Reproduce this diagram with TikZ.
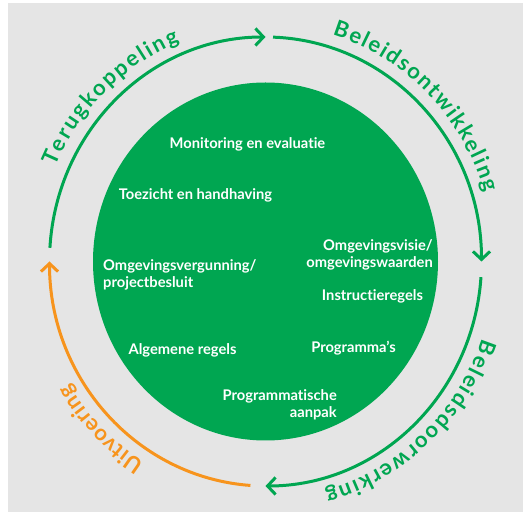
\documentclass[tikz,border=0pt]{standalone}
\usepackage{fontspec}
\setmainfont{Lato}[Ligatures={NoCommon}]
\usetikzlibrary{arrows.meta,decorations.text}
\definecolor{bg}{HTML}{E5E5E5}
\definecolor{grn}{HTML}{00A651}
\definecolor{org}{HTML}{F7941D}
\begin{document}
\begin{tikzpicture}[x=1pt,y=1pt,
  ring/.style={line width=3pt, -{Straight Barb[length=8pt,width=17pt]}},
  inner/.style={text=white, font=\bfseries\fontsize{14.7}{17}\selectfont, inner sep=0pt},
  ringtext/.style={decorate, decoration={text along path, text align={fit to path}, text color=#1}}
]
\useasboundingbox (0,0) rectangle (523,514);
\fill[bg] (8,2) rectangle (523,511);
\coordinate (C) at (265.5,252.5);
\fill[grn] (C) ellipse [x radius=172.5, y radius=179];

% ring arrows
\draw[ring, grn] (C) ++(176.5:216 and 224.5) arc[start angle=176.5, end angle=90, x radius=216, y radius=224.5];
\draw[ring, grn] (C) ++(88:216 and 224.5) arc[start angle=88, end angle=0, x radius=216, y radius=224.5];
\draw[ring, grn] (C) ++(-4:216 and 224.5) arc[start angle=-4, end angle=-90, x radius=216, y radius=224.5];
\draw[ring, org] (C) ++(-94:216 and 224.5) arc[start angle=-94, end angle=-180, x radius=216, y radius=224.5];

% ring texts
\path[ringtext=grn, decoration={text={|\bfseries\fontsize{22}{22}\selectfont|Terugkoppeling}}]
  (C) ++(156.5:229 and 237) arc[start angle=156.5, end angle=112, x radius=229, y radius=237];
\path[ringtext=grn, decoration={text={|\bfseries\fontsize{22}{22}\selectfont|Beleidsontwikkeling}}]
  (C) ++(73:229 and 237) arc[start angle=73, end angle=17, x radius=229, y radius=237];
\path[ringtext=grn, decoration={text={|\bfseries\fontsize{22}{22}\selectfont|Beleidsdoorwerking}}]
  (C) ++(-19:229 and 237) arc[start angle=-19, end angle=-75, x radius=229, y radius=237];
\path[ringtext=org, decoration={text={|\bfseries\fontsize{22}{22}\selectfont|Uitvoering}}]
  (C) ++(-122:229 and 237) arc[start angle=-122, end angle=-149, x radius=229, y radius=237];

% inner texts
\node[inner] (mon) at (247.5,370) {Monitoring en evaluatie};
\node[inner] (toe) at (195.5,319) {Toezicht en handhaving};
\node[inner, align=left, anchor=west] (ovg) at (103,239.5) {Omgevingsvergunning/\\projectbesluit};
\node[inner, align=right, anchor=east] (ovi) at (433,259.5) {Omgevingsvisie/\\omgevingswaarden};
\node[inner] (ins) at (372.5,218) {Instructieregels};
\node[inner] (alg) at (182.5,164) {Algemene regels};
\node[inner] (prg) at (353.5,166) {Programma’s};
\node[inner, align=right, anchor=east] (pa) at (337,109) {Programmatische\\aanpak};
\end{tikzpicture}
\end{document}
